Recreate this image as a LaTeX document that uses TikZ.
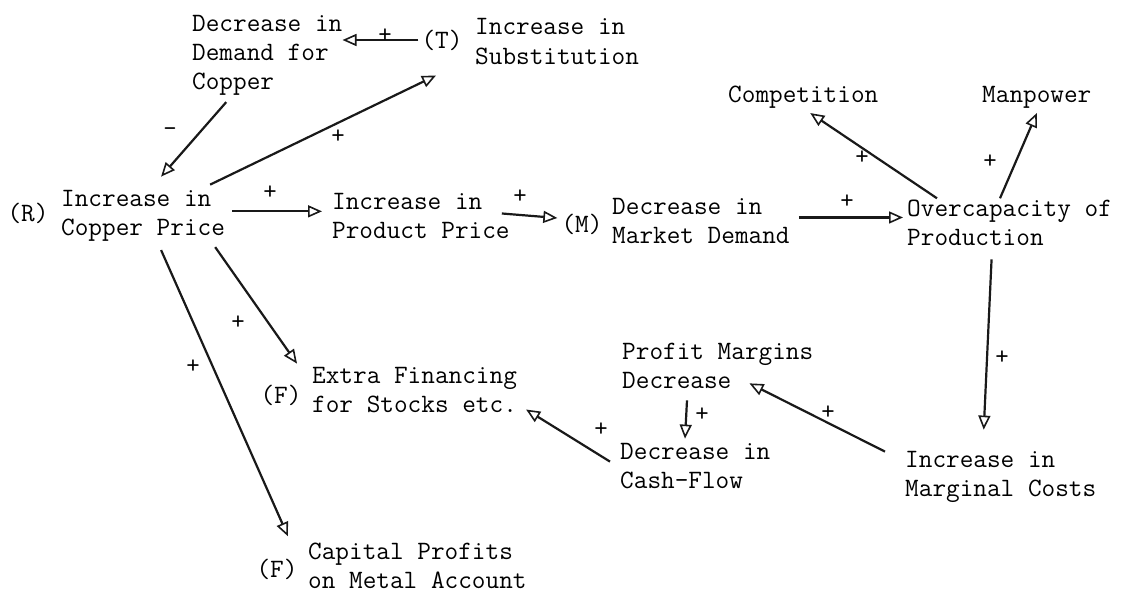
\documentclass[tikz,border=0pt]{standalone}
\usepackage{fontspec}
\usetikzlibrary{arrows.meta,calc}
\begin{document}
\begin{tikzpicture}[x=1pt,y=-1pt,
  lbl/.style={font=\ttfamily\fontsize{26.5}{29}\selectfont, align=left, anchor=base west, inner sep=0pt},
  tag/.style={font=\ttfamily\fontsize{26.5}{29}\selectfont, inner sep=0pt},
  sgn/.style={font=\ttfamily\fontsize{26}{26}\selectfont, inner sep=0pt},
  arr/.style={line width=2.2pt, draw=black!90, -{Triangle[open, length=14pt, width=12pt, line width=1.6pt]}}]
\useasboundingbox[fill=white] (0,0) rectangle (1127,594);
% nodes (anchor = baseline of the last line)
\node[lbl] (dem) at (192,89) {Decrease in\\Demand for\\Copper};
\node[tag] (tlab) at (442,40) {(T)};
\node[lbl] (sub) at (475,64) {Increase in\\Substitution};
\node[tag] (rlab) at (28,213) {(R)};
\node[lbl] (cp) at (61,235) {Increase in\\Copper Price};
\node[lbl] (pp) at (332,238) {Increase in\\Product Price};
\node[tag] (mlab) at (582,224) {(M)};
\node[lbl] (md) at (612,243) {Decrease in\\Market Demand};
\node[lbl] (comp) at (728,102) {Competition};
\node[lbl] (man) at (982,102) {Manpower};
\node[lbl] (oc) at (907,245) {Overcapacity of\\Production};
\node[lbl] (mc) at (905,496) {Increase in\\Marginal Costs};
\node[lbl] (pm) at (622,388) {Profit Margins\\Decrease};
\node[lbl] (cf) at (620,488) {Decrease in\\Cash-Flow};
\node[tag] (f1) at (281,395) {(F)};
\node[lbl] (ef) at (312,412) {Extra Financing\\for Stocks etc.};
\node[tag] (f2) at (277,569) {(F)};
\node[lbl] (cap) at (308,588) {Capital Profits\\on Metal Account};
% connectors
\draw[arr, shorten <=3pt] (tlab.west) -- (tlab.west -| dem.east);
\draw[arr] ($(dem.south)+(-41,7)$) -- ($(cp.north)+(18,-13)$);
\draw[arr] ($(cp.north east)+(-15,-5)$) -- ($(tlab.south)+(-6,25)$);
\draw[arr] ($(cp.east)+(7,-4)$) -- ($(pp.west |- cp.east)+(-10,-4)$);
\draw[arr] ($(pp.east)+(-8,-2)$) -- ($(mlab.west)+(-4,-6)$);
\draw[arr] ($(md.east)+(9,-3)$) -- ($(oc.west |- md.east)+(-4,-3)$);
\draw[arr] ($(oc.north west)+(30,-1)$) -- ($(comp.south)+(7,5)$);
\draw[arr] ($(oc.north west)+(93,-1)$) -- ($(man.south)+(0,5)$);
\draw[arr] ($(oc.south)+(-18,14)$) -- ($(mc.north)+(-17,-21)$);
\draw[arr] ($(mc.north west)+(-20,1)$) -- ($(pm.south east)+(-64,-5)$);
\draw[arr] ($(pm.south west)+(65,12)$) -- ($(cf.north west)+(65,-4)$);
\draw[arr] ($(cf.north west)+(-10,19)$) -- ($(ef.south east)+(9,-3)$);
\draw[arr] ($(cp.south east)+(-10,6)$) -- ($(ef.north west)+(-15,-3)$);
\draw[arr] ($(cp.south)+(18,9)$) -- ($(cap.north west)+(-20,-6)$);
% signs
\node[sgn] (s1) at (385,36) {+};
\node[sgn] (s2) at (170,132) {\textendash};
\node[sgn] (s3) at (338,137) {+};
\node[sgn] (s4) at (270,193) {+};
\node[sgn] (s5) at (520,197) {+};
\node[sgn] (s6) at (847,202) {+};
\node[sgn] (s7) at (862,158) {+};
\node[sgn] (s8) at (990,162) {+};
\node[sgn] (s9) at (1002,358) {+};
\node[sgn] (s10) at (828,413) {+};
\node[sgn] (s11) at (702,415) {+};
\node[sgn] (s12) at (601,430) {+};
\node[sgn] (s13) at (238,323) {+};
\node[sgn] (s14) at (193,367) {+};
\end{tikzpicture}
\end{document}
